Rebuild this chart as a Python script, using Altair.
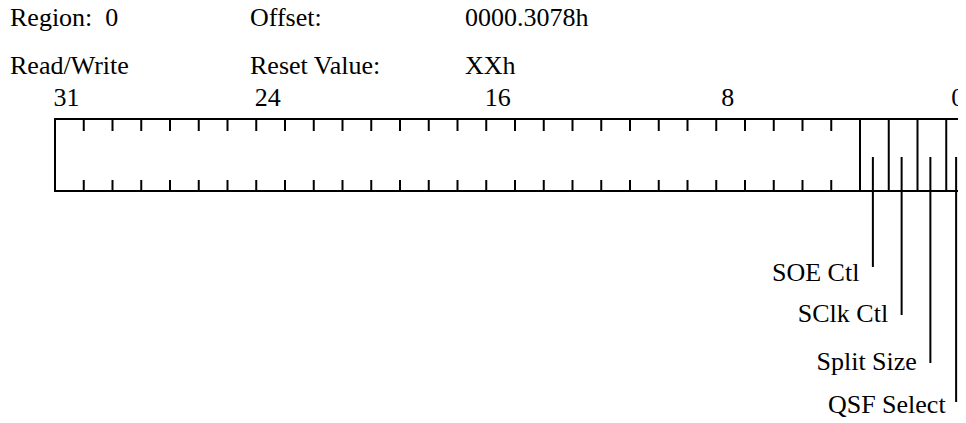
import altair as alt
import pandas as pd

# ---------------- data ----------------
register_bits = 32
bit_labels = [31, 24, 16, 8, 0]
field_names = ["SOE Ctl", "SClk Ctl", "Split Size", "QSF Select"]
field_bits = [3, 2, 1, 0]
header_row1 = ["Region:\u00a0\u00a00", "Offset:", "0000.3078h"]
header_row2 = ["Read/Write", "Reset Value:", "XXh"]

# ---------------- layout (plot-area pixels) ----------------
W, H = 950, 415
CELL = 28.75          # width of one bit cell
BOX_LEFT = 47         # left edge of the register box
BOX_TOP, BOX_BOTTOM = 111, 183
TICK_LEN_TOP, TICK_LEN_BOTTOM = 12, 11
BIT_LABEL_Y = 98
LEADER_TOP = 149
leader_ends = [259, 307, 355, 394]
label_mid = [265, 306, 354, 397]
header_x = [2, 242, 457]
header_y = [17.5, 66]
FONT = "Liberation Serif"
FS = 26

xscale = alt.Scale(domain=[register_bits + BOX_LEFT / CELL,
                           register_bits - (W - BOX_LEFT) / CELL],
                   nice=False, zero=False)
yscale = alt.Scale(domain=[H, 0], nice=False, zero=False)


def X(f):
    return alt.X(f, type="quantitative", scale=xscale, axis=None)


def Y(f):
    return alt.Y(f, type="quantitative", scale=yscale, axis=None)


# register outline
box_df = pd.DataFrame({"x": [register_bits], "x2": [0], "y": [BOX_TOP], "y2": [BOX_BOTTOM]})
box = alt.Chart(box_df).mark_rect(fill="white", fillOpacity=0, stroke="black",
                                  strokeWidth=2, clip=False).encode(
    x=X("x"), x2=alt.X2("x2"), y=Y("y"), y2=alt.Y2("y2"))

# short ticks at each bit boundary of the reserved part
field_edges = set(b + 1 for b in field_bits)
tick_pos = [v for v in range(1, register_bits) if v > max(field_edges)]
ticks_df = pd.DataFrame(
    [{"x": v, "y": BOX_TOP, "y2": BOX_TOP + TICK_LEN_TOP} for v in tick_pos] +
    [{"x": v, "y": BOX_BOTTOM - TICK_LEN_BOTTOM, "y2": BOX_BOTTOM} for v in tick_pos])
ticks = alt.Chart(ticks_df).mark_rule(color="black", strokeWidth=2).encode(
    x=X("x"), y=Y("y"), y2=alt.Y2("y2"))

# full-height separators for the defined fields
sep_df = pd.DataFrame({"x": [b + 1 for b in field_bits],
                       "y": [BOX_TOP] * len(field_bits),
                       "y2": [BOX_BOTTOM] * len(field_bits)})
seps = alt.Chart(sep_df).mark_rule(color="black", strokeWidth=2).encode(
    x=X("x"), y=Y("y"), y2=alt.Y2("y2"))

# leader lines and field names
fld_df = pd.DataFrame({"name": field_names,
                       "bit": field_bits,
                       "x": [b + 0.5 for b in field_bits],
                       "y": [LEADER_TOP] * len(field_bits),
                       "y2": leader_ends,
                       "ly": label_mid})
leader_base = alt.Chart(fld_df).encode(x=X("x"), y=Y("y"), y2=alt.Y2("y2"))
leaders = leader_base.mark_rule(color="black", strokeWidth=2, xOffset=-1.5).transform_filter(
    "datum.bit > 0")
# the bit-0 leader sits at the very right edge of the picture: keep it inside
leader0 = leader_base.mark_rule(color="black", strokeWidth=2, xOffset=-4.5).transform_filter(
    "datum.bit == 0")
names = alt.Chart(fld_df).mark_text(align="right", baseline="middle", dx=-15,
                                    font=FONT, fontSize=FS, color="black").encode(
    x=X("x"), y=Y("ly"), text="name:N")

# bit numbers above the register
bits_df = pd.DataFrame({"bit": bit_labels,
                        "x": [b + 0.5 for b in bit_labels],
                        "y": [BIT_LABEL_Y] * len(bit_labels)})
bitnums = alt.Chart(bits_df).mark_text(align="center", baseline="alphabetic", dx=-3,
                                       font=FONT, fontSize=FS, color="black").encode(
    x=X("x"), y=Y("y"), text="bit:N")

# header block
hdr_rows = []
for r, row in enumerate([header_row1, header_row2]):
    for c, t in enumerate(row):
        hdr_rows.append({"t": t, "hx": header_x[c], "hy": header_y[r]})
hdr_df = pd.DataFrame(hdr_rows)
header = alt.Chart(hdr_df).mark_text(align="left", baseline="alphabetic",
                                     font=FONT, fontSize=FS, color="black").encode(
    x=alt.X("hx:Q", scale=None, axis=None),
    y=alt.Y("hy:Q", scale=None, axis=None),
    text="t:N")

chart = alt.layer(box, ticks, seps, leaders, leader0, names, bitnums, header).properties(
    width=W, height=H, padding=0, autosize=alt.AutoSizeParams(type="none"),
    background="white"
).configure_view(stroke=None)

chart.save("out.html", embed_options={"renderer": "svg", "actions": False})
